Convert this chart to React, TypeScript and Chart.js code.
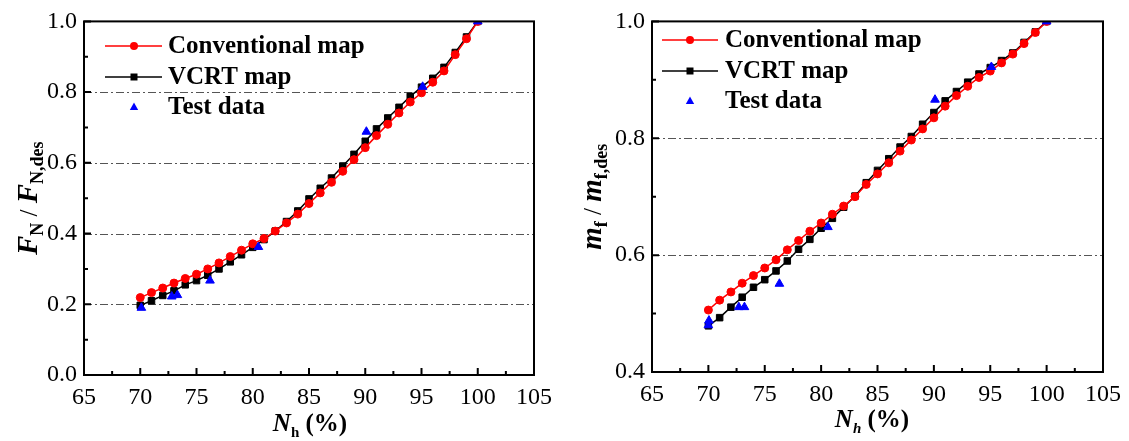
import React, { useEffect, useRef } from "react";
import { Chart, registerables } from "chart.js";

Chart.register(...registerables);

// ---------- DATA ----------
const NH = [70, 71, 72, 73, 74, 75, 76, 77, 78, 79, 80, 81, 82, 83, 84, 85, 86, 87, 88, 89, 90, 91, 92, 93, 94, 95, 96, 97, 98, 99, 100];

const FN_CONV = [0.219, 0.233, 0.246, 0.26, 0.273, 0.285, 0.3, 0.317, 0.335, 0.353, 0.371, 0.386, 0.407, 0.43, 0.455, 0.485, 0.515, 0.545, 0.576, 0.609, 0.643, 0.677, 0.709, 0.741, 0.772, 0.798, 0.828, 0.86, 0.906, 0.951, 1.0];
const FN_VCRT = [0.197, 0.21, 0.225, 0.238, 0.255, 0.267, 0.282, 0.3, 0.32, 0.34, 0.361, 0.383, 0.407, 0.434, 0.464, 0.498, 0.528, 0.557, 0.591, 0.624, 0.661, 0.696, 0.727, 0.757, 0.788, 0.814, 0.839, 0.87, 0.912, 0.956, 1.0];
const FN_TEST_NH = [70.1, 72.8, 73.3, 76.2, 80.5, 90.1, 95.1, 100];
const FN_TEST = [0.19, 0.222, 0.226, 0.267, 0.362, 0.688, 0.815, 1.0];

const MF_CONV = [0.506, 0.523, 0.537, 0.552, 0.565, 0.578, 0.592, 0.609, 0.625, 0.641, 0.655, 0.67, 0.684, 0.7, 0.721, 0.739, 0.758, 0.778, 0.797, 0.816, 0.835, 0.855, 0.873, 0.889, 0.904, 0.915, 0.929, 0.944, 0.962, 0.981, 1.0];
const MF_VCRT = [0.479, 0.493, 0.511, 0.528, 0.545, 0.558, 0.573, 0.59, 0.61, 0.627, 0.646, 0.663, 0.682, 0.701, 0.724, 0.745, 0.765, 0.785, 0.803, 0.824, 0.844, 0.864, 0.88, 0.896, 0.91, 0.921, 0.933, 0.946, 0.964, 0.982, 1.0];
const MF_TEST_NH = [70.0, 70.05, 72.7, 73.2, 76.3, 80.6, 90.1, 95.1, 100];
const MF_TEST = [0.48, 0.488, 0.511, 0.511, 0.551, 0.648, 0.866, 0.922, 1.0];

const X_MIN = 65;
const X_MAX = 105;
const X_STEP = 5;
const LEGEND_LABELS = ["Conventional map", "VCRT map", "Test data"];

// ---------- STYLE ----------
const FONT = "'Liberation Serif', 'Times New Roman', Times, serif";
const RED = "#ff0000";
const BLACK = "#000000";
const BLUE = "#0000ff";

type Part = { t: string; font: string; dy: number };

const PANEL_F = {
  left: 0,
  width: 560,
  height: 441,
  plot: { l: 84, r: 537, t: 21, b: 375 },
  yMin: 0,
  yMax: 1,
  yStep: 0.2,
  conv: FN_CONV,
  vcrt: FN_VCRT,
  testX: FN_TEST_NH,
  testY: FN_TEST,
  yTitle: [
    { t: "F", font: `italic bold 29px ${FONT}`, dy: 0 },
    { t: "N", font: `bold 18px ${FONT}`, dy: 6 },
    { t: " / ", font: `25px ${FONT}`, dy: 0 },
    { t: "F", font: `italic bold 29px ${FONT}`, dy: 0 },
    { t: "N,des", font: `bold 18px ${FONT}`, dy: 6 },
  ] as Part[],
  yTitleX: 37,
  xTitle: [
    { t: "N", font: `italic bold 25px ${FONT}`, dy: 0 },
    { t: "h", font: `bold 15px ${FONT}`, dy: 6 },
    { t: " (%)", font: `bold 25px ${FONT}`, dy: 0 },
  ] as Part[],
  xTitleCx: 310,
  xTitleY: 431,
  legend: { rows: [46, 77, 107], l1: 105, l2: 162, m: 134, tx: 168 },
};

const PANEL_M = {
  left: 560,
  width: 569,
  height: 441,
  plot: { l: 92, r: 547, t: 21, b: 372 },
  yMin: 0.4,
  yMax: 1,
  yStep: 0.2,
  conv: MF_CONV,
  vcrt: MF_VCRT,
  testX: MF_TEST_NH,
  testY: MF_TEST,
  yTitle: [
    { t: "m", font: `italic bold 29px ${FONT}`, dy: 0 },
    { t: "f", font: `bold 18px ${FONT}`, dy: 6 },
    { t: " / ", font: `25px ${FONT}`, dy: 0 },
    { t: "m", font: `italic bold 29px ${FONT}`, dy: 0 },
    { t: "f,des", font: `bold 18px ${FONT}`, dy: 6 },
  ] as Part[],
  yTitleX: 41,
  xTitle: [
    { t: "N", font: `italic bold 25px ${FONT}`, dy: 0 },
    { t: "h", font: `italic bold 15px ${FONT}`, dy: 6 },
    { t: " (%)", font: `bold 25px ${FONT}`, dy: 0 },
  ] as Part[],
  xTitleCx: 312,
  xTitleY: 427,
  legend: { rows: [40, 71, 101], l1: 102, l2: 158, m: 130, tx: 165 },
};

function drawParts(ctx: CanvasRenderingContext2D, parts: Part[], cx: number, baseY: number) {
  let total = 0;
  for (const p of parts) {
    ctx.font = p.font;
    total += ctx.measureText(p.t).width;
  }
  let x = cx - total / 2;
  ctx.textAlign = "left";
  ctx.textBaseline = "alphabetic";
  for (const p of parts) {
    ctx.font = p.font;
    ctx.fillText(p.t, x, baseY + p.dy);
    x += ctx.measureText(p.t).width;
  }
}

function marker(ctx: CanvasRenderingContext2D, kind: number, x: number, y: number) {
  ctx.beginPath();
  if (kind === 0) {
    ctx.fillStyle = RED;
    ctx.arc(x, y, 4, 0, Math.PI * 2);
  } else if (kind === 1) {
    ctx.fillStyle = BLACK;
    ctx.rect(x - 3.5, y - 3.5, 7, 7);
  } else {
    ctx.fillStyle = BLUE;
    ctx.moveTo(x, y - 4.5);
    ctx.lineTo(x + 4.2, y + 3);
    ctx.lineTo(x - 4.2, y + 3);
    ctx.closePath();
  }
  ctx.fill();
}

function buildConfig(cfg: typeof PANEL_F): any {
  const decor = {
    id: "decor",
    beforeDatasetsDraw(chart: any) {
      const ctx: CanvasRenderingContext2D = chart.ctx;
      const ys = chart.scales.y;
      const a = chart.chartArea;
      ctx.save();
      ctx.strokeStyle = "#555555";
      ctx.lineWidth = 1;
      ctx.setLineDash([8, 3, 2, 3]);
      for (const t of ys.ticks) {
        if (t.value <= cfg.yMin + 1e-6 || t.value >= cfg.yMax - 1e-6) continue;
        const py = Math.round(ys.getPixelForValue(t.value)) + 0.5;
        ctx.beginPath();
        ctx.moveTo(a.left, py);
        ctx.lineTo(a.right, py);
        ctx.stroke();
      }
      ctx.restore();
    },
    afterDatasetsDraw(chart: any) {
      const ctx: CanvasRenderingContext2D = chart.ctx;
      const xs = chart.scales.x;
      const ys = chart.scales.y;
      const a = chart.chartArea;
      ctx.save();
      ctx.setLineDash([]);
      ctx.strokeStyle = BLACK;
      ctx.lineWidth = 2;
      ctx.strokeRect(a.left, a.top, a.right - a.left, a.bottom - a.top);
      // ticks
      ctx.lineWidth = 2;
      ctx.beginPath();
      for (let i = 0; i < xs.ticks.length; i++) {
        const v = xs.ticks[i].value;
        const px = xs.getPixelForValue(v);
        ctx.moveTo(px, a.bottom);
        ctx.lineTo(px, a.bottom - 7);
        if (i < xs.ticks.length - 1) {
          const mid = (v + xs.ticks[i + 1].value) / 2;
          const mx = xs.getPixelForValue(mid);
          ctx.moveTo(mx, a.bottom);
          ctx.lineTo(mx, a.bottom - 4);
        }
      }
      for (let i = 0; i < ys.ticks.length; i++) {
        const v = ys.ticks[i].value;
        const py = ys.getPixelForValue(v);
        ctx.moveTo(a.left, py);
        ctx.lineTo(a.left + 7, py);
        if (i < ys.ticks.length - 1) {
          const mid = (v + ys.ticks[i + 1].value) / 2;
          const my = ys.getPixelForValue(mid);
          ctx.moveTo(a.left, my);
          ctx.lineTo(a.left + 4, my);
        }
      }
      ctx.stroke();

      // legend
      const lg = cfg.legend;
      const colors = [RED, BLACK];
      for (let i = 0; i < 3; i++) {
        const y = lg.rows[i];
        if (i < 2) {
          ctx.strokeStyle = colors[i];
          ctx.lineWidth = 1.5;
          ctx.beginPath();
          ctx.moveTo(lg.l1, y);
          ctx.lineTo(lg.l2, y);
          ctx.stroke();
        }
        marker(ctx, i, lg.m, y);
        ctx.fillStyle = BLACK;
        ctx.font = `bold 25px ${FONT}`;
        ctx.textAlign = "left";
        ctx.textBaseline = "middle";
        ctx.fillText(LEGEND_LABELS[i], lg.tx, y + 1);
      }

      // axis titles
      ctx.fillStyle = BLACK;
      drawParts(ctx, cfg.xTitle, cfg.xTitleCx, cfg.xTitleY);
      ctx.translate(cfg.yTitleX, (a.top + a.bottom) / 2);
      ctx.rotate(-Math.PI / 2);
      drawParts(ctx, cfg.yTitle, 0, 0);
      ctx.restore();
    },
  };

  const pts = (xs: number[], ys: number[]) => xs.map((x, i) => ({ x, y: ys[i] }));

  return {
    type: "line",
    data: {
      datasets: [
        {
          label: LEGEND_LABELS[2],
          data: pts(cfg.testX, cfg.testY),
          showLine: false,
          pointStyle: "triangle",
          pointRadius: 5,
          pointBackgroundColor: BLUE,
          pointBorderColor: BLUE,
          pointBorderWidth: 1,
          borderColor: BLUE,
          backgroundColor: BLUE,
          order: 0,
        },
        {
          label: LEGEND_LABELS[0],
          data: pts(NH, cfg.conv),
          borderColor: RED,
          backgroundColor: RED,
          borderWidth: 1.5,
          pointStyle: "circle",
          pointRadius: 4,
          pointBackgroundColor: RED,
          pointBorderColor: RED,
          pointBorderWidth: 1,
          tension: 0,
          order: 1,
        },
        {
          label: LEGEND_LABELS[1],
          data: pts(NH, cfg.vcrt),
          borderColor: BLACK,
          backgroundColor: BLACK,
          borderWidth: 1.5,
          pointStyle: "rect",
          pointRadius: 4.6,
          pointBackgroundColor: BLACK,
          pointBorderColor: BLACK,
          pointBorderWidth: 1,
          tension: 0,
          order: 2,
        },
      ],
    },
    options: {
      responsive: false,
      animation: false,
      devicePixelRatio: 1,
      events: [],
      layout: {
        padding: { left: 0, top: cfg.plot.t, right: cfg.width - cfg.plot.r, bottom: 0 },
      },
      plugins: { legend: { display: false }, tooltip: { enabled: false } },
      scales: {
        x: {
          type: "linear",
          min: X_MIN,
          max: X_MAX,
          grid: { display: false, drawTicks: false },
          border: { display: false },
          ticks: {
            stepSize: X_STEP,
            autoSkip: false,
            maxRotation: 0,
            color: BLACK,
            padding: 8,
            font: { family: FONT, size: 24 },
          },
          afterFit: (s: any) => {
            s.height = cfg.height - cfg.plot.b;
          },
        },
        y: {
          type: "linear",
          min: cfg.yMin,
          max: cfg.yMax,
          grid: { display: false, drawTicks: false },
          border: { display: false },
          ticks: {
            stepSize: cfg.yStep,
            autoSkip: false,
            color: BLACK,
            padding: 7,
            font: { family: FONT, size: 24 },
            callback: (v: any) => Number(v).toFixed(1),
          },
          afterFit: (s: any) => {
            s.width = cfg.plot.l;
          },
        },
      },
    },
    plugins: [decor],
  };
}

function Panel({ cfg }: { cfg: typeof PANEL_F }) {
  const ref = useRef<HTMLCanvasElement | null>(null);
  useEffect(() => {
    if (!ref.current) return;
    const chart = new Chart(ref.current, buildConfig(cfg));
    return () => chart.destroy();
  }, [cfg]);
  return (
    <canvas
      ref={ref}
      width={cfg.width}
      height={cfg.height}
      style={{ position: "absolute", left: cfg.left, top: 0, width: cfg.width, height: cfg.height }}
    />
  );
}

export default function App() {
  return (
    <div style={{ position: "fixed", left: 0, top: 0, width: 1129, height: 441, background: "#ffffff", overflow: "hidden" }}>
      <Panel cfg={PANEL_F} />
      <Panel cfg={PANEL_M as any} />
    </div>
  );
}
